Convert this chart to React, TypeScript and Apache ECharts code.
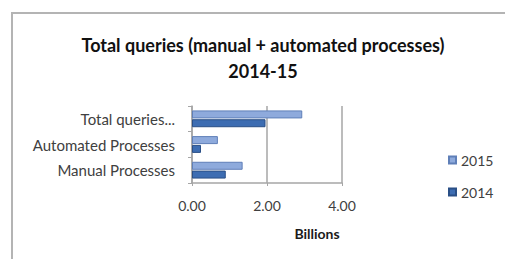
import React, { useEffect, useRef } from "react";
import * as echarts from "echarts";

const categories = ["Manual Processes", "Automated Processes", "Total queries..."];
const values2015 = [1.35, 0.69, 2.94];
const values2014 = [0.9, 0.24, 1.96];
const xTicks = [0, 2, 4];

const FONT = "Lato, 'Open Sans', sans-serif";

export default function App() {
  const ref = useRef<HTMLDivElement>(null);
  useEffect(() => {
    const chart = echarts.init(ref.current!, null, { renderer: "svg" });
    chart.setOption({
      animation: false,
      backgroundColor: "#ffffff",
      title: {
        text: "Total queries (manual + automated processes)\n2014-15",
        left: 258,
        top: 27,
        textAlign: "center",
        textStyle: {
          fontFamily: FONT,
          fontSize: 18,
          fontWeight: "bold",
          color: "#111111",
          lineHeight: 26,
        },
      },
      legend: {
        orient: "vertical",
        left: 443,
        top: 148,
        itemWidth: 7,
        itemHeight: 7,
        itemGap: 18,
        icon: "rect",
        data: ["2015", "2014"],
        textStyle: { fontFamily: FONT, fontSize: 14, color: "#404040", padding: [0, 0, 0, 0] },
      },
      grid: { left: 192, right: 163, top: 106, bottom: 76, containLabel: false },
      xAxis: {
        type: "value",
        min: xTicks[0],
        max: xTicks[xTicks.length - 1],
        interval: 2,
        axisLine: { show: true, lineStyle: { color: "#a6a6a6", width: 1.5 } },
        axisTick: { show: true, length: 3, lineStyle: { color: "#a6a6a6" } },
        axisLabel: {
          margin: 15,
          fontFamily: FONT,
          fontSize: 14,
          color: "#404040",
          formatter: (v: number) => v.toFixed(2),
        },
        splitLine: { show: true, lineStyle: { color: "#a6a6a6", width: 1.5 } },
      },
      yAxis: {
        type: "category",
        data: categories,
        axisLine: { show: true, lineStyle: { color: "#a6a6a6", width: 1.5 } },
        axisTick: { show: true, length: 4, lineStyle: { color: "#a6a6a6" } },
        axisLabel: { margin: 17, fontFamily: FONT, fontSize: 15, color: "#404040" },
      },
      series: [
        {
          name: "2015",
          type: "bar",
          data: values2015,
          barWidth: 8,
          barGap: "10%",
          itemStyle: { color: "#8eaadc", borderColor: "#5f7fb8", borderWidth: 1 },
        },
        {
          name: "2014",
          type: "bar",
          data: values2014,
          barWidth: 8,
          barGap: "10%",
          itemStyle: { color: "#3d6db2", borderColor: "#2a4f86", borderWidth: 1 },
        },
      ],
      graphic: [
        {
          type: "rect",
          shape: { x: 12, y: 13, width: 520, height: 270 },
          style: { fill: "none", stroke: "#b4b4b4", lineWidth: 2 },
          silent: true,
        },
        {
          type: "text",
          x: 317,
          y: 233,
          style: {
            text: "Billions",
            fontFamily: FONT,
            fontSize: 14,
            fontWeight: "bold",
            fill: "#1a1a1a",
            align: "center",
            verticalAlign: "middle",
          },
        },
      ],
    });
    return () => chart.dispose();
  }, []);
  return (
    <div
      ref={ref}
      style={{ position: "absolute", left: 0, top: 0, width: 505, height: 259 }}
    />
  );
}
